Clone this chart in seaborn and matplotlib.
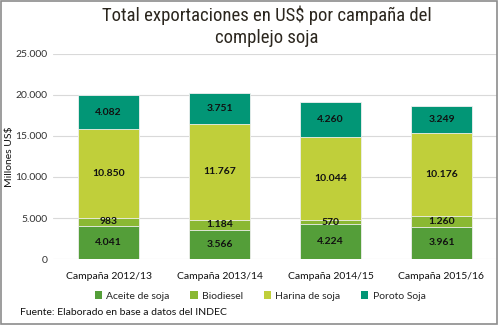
import matplotlib
matplotlib.use("Agg")
import matplotlib.pyplot as plt
import seaborn as sns
import pandas as pd
import numpy as np
from matplotlib.patches import Rectangle
from matplotlib import font_manager

categories = ["Campaña 2012/13", "Campaña 2013/14", "Campaña 2014/15", "Campaña 2015/16"]
series_names = ["Aceite de soja", "Biodiesel", "Harina de soja", "Poroto Soja"]
aceite = [4041, 3566, 4224, 3961]
biodiesel = [983, 1184, 570, 1260]
harina = [10850, 11767, 10044, 10176]
poroto = [4082, 3751, 4260, 3249]
colors = ["#549E39", "#8AB833", "#C0CF3A", "#029676"]
yticks = [0, 5000, 10000, 15000, 20000, 25000]

sns.set_theme(style="white")
plt.rcParams['font.family'] = ['Lato', 'DejaVu Sans']

installed = {f.name for f in font_manager.fontManager.ttflist}
title_font = "Roboto"
title_size = 12.5
for cand in ["Liberation Sans Narrow", "Roboto Condensed", "Open Sans Condensed", "DejaVu Sans Condensed"]:
    if cand in installed:
        title_font = cand
        break
if title_font == "Roboto":
    title_size = 11.5
title_size *= 1.08

def fmt(v):
    return f"{v:,.0f}".replace(",", ".")

fig = plt.figure(figsize=(5, 3.25), dpi=100)
ax = fig.add_axes([0.106, 0.203, 0.888, 0.631])

values = [aceite, biodiesel, harina, poroto]
cum = np.cumsum(np.array(values), axis=0)
df = pd.DataFrame({"cat": categories})
for i in range(3, -1, -1):
    df["v"] = cum[i]
    sns.barplot(data=df, x="cat", y="v", color=colors[i], width=0.55,
                edgecolor="#f0f0f0", linewidth=0.6, saturation=1, ax=ax, zorder=3)

for i in range(4):
    bottoms = cum[i] - np.array(values[i])
    for j in range(len(categories)):
        ax.text(j, bottoms[j] + values[i][j] / 2, fmt(values[i][j]), ha="center", va="center",
                fontsize=7.5, fontweight="bold", color="#111111", zorder=5)

ax.set_ylim(0, 25000)
ax.set_xlim(-0.5, 3.5)
ax.set_yticks(yticks)
ax.set_yticklabels([fmt(v) for v in yticks], fontsize=7.5, color="#333333")
ax.set_xticks(range(4))
ax.set_xticklabels(categories, fontsize=7.5, color="#111111")
ax.set_xlabel("")
ax.set_ylabel("Millones US$", fontsize=7.5, color="#111111")
ax.yaxis.set_label_coords(-0.088, 0.5)
ax.grid(axis="y", color="#d9d9d9", linewidth=0.8, zorder=0)
for s in ax.spines.values():
    s.set_visible(False)
ax.tick_params(axis="y", length=0, pad=4)
ax.tick_params(axis="x", length=0, pad=9)

handles = [Rectangle((0, 0), 1, 1, facecolor=c, edgecolor="none") for c in colors]
fig.legend(handles, series_names, loc="center", bbox_to_anchor=(0.52, 0.089), ncol=4,
           frameon=False, fontsize=7.5, handlelength=0.7, handleheight=0.7,
           handletextpad=0.4, columnspacing=2.0)

fig.text(0.534, 0.982, "Total exportaciones en US$ por campaña del\ncomplejo soja",
         ha="center", va="top", fontsize=title_size, color="#2b261e",
         family=[title_font, "DejaVu Sans"], linespacing=1.25)
fig.text(0.04, 0.037, "Fuente: Elaborado en base a datos del INDEC", ha="left", va="center",
         fontsize=7.5, color="#111111")

fig.add_artist(Rectangle((0.002, 0.004), 0.992, 0.992, transform=fig.transFigure,
                         fill=False, edgecolor="#8c8c8c", linewidth=1.2))

fig.savefig("out.png", dpi=100)
